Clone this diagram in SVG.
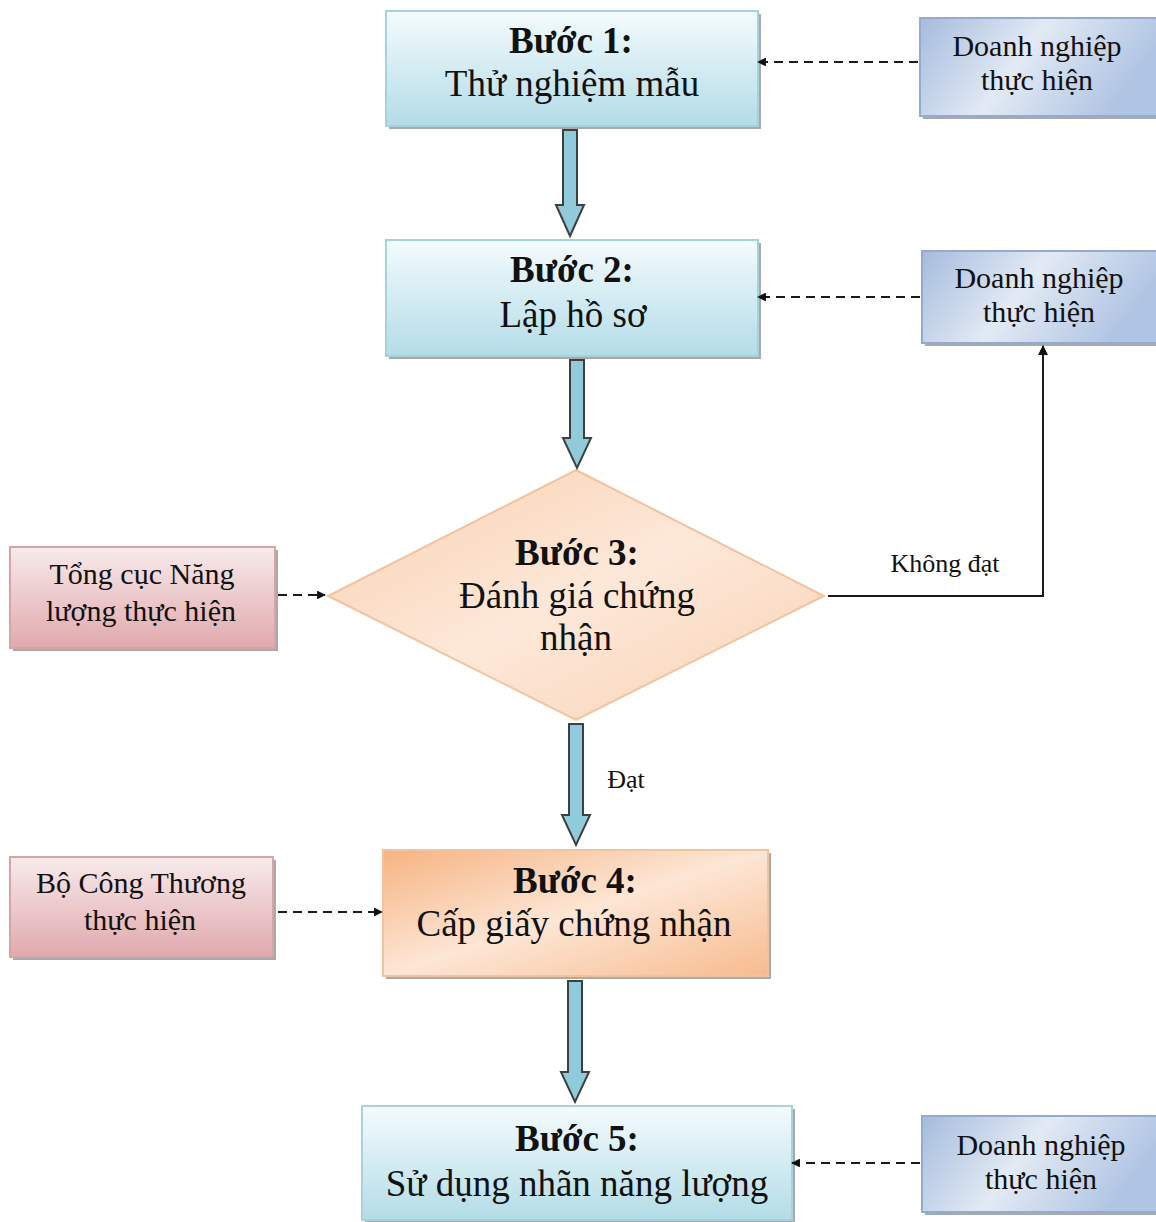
<svg xmlns="http://www.w3.org/2000/svg" width="1156" height="1222" viewBox="0 0 1156 1222">
<defs>
<linearGradient id="gBlue" x1="0" y1="0" x2="0" y2="1">
<stop offset="0" stop-color="#f4fbfd"/><stop offset="1" stop-color="#b3dce7"/>
</linearGradient>
<linearGradient id="gSide" x1="0" y1="0" x2="1" y2="0.3">
<stop offset="0" stop-color="#a5bbdd"/><stop offset="0.5" stop-color="#e2eaf4"/><stop offset="1" stop-color="#b0c4e3"/>
</linearGradient>
<linearGradient id="gPink" x1="0" y1="0" x2="0" y2="1">
<stop offset="0" stop-color="#f8eaeb"/><stop offset="1" stop-color="#e0a9ad"/>
</linearGradient>
<linearGradient id="gDia" x1="0" y1="0" x2="1" y2="1">
<stop offset="0" stop-color="#f9cfae"/><stop offset="0.5" stop-color="#fde8d9"/><stop offset="1" stop-color="#f9d2b3"/>
</linearGradient>
<linearGradient id="gOr" x1="0" y1="0" x2="1" y2="1">
<stop offset="0" stop-color="#f6b382"/><stop offset="0.5" stop-color="#fde6d5"/><stop offset="1" stop-color="#f7bb8e"/>
</linearGradient>
<marker id="ah" viewBox="0 0 10 10" refX="9" refY="5" markerWidth="4" markerHeight="4" orient="auto">
<path d="M0,0 L10,5 L0,10 Z" fill="#111"/>
</marker>
<marker id="ah2" viewBox="0 0 10 10" refX="9" refY="5" markerWidth="5" markerHeight="5" orient="auto">
<path d="M0,0 L10,5 L0,10 Z" fill="#111"/>
</marker>
</defs>
<style>
.shadow{fill:#8c8c8c;opacity:0.75}
.blue{fill:url(#gBlue);stroke:#a6d2df;stroke-width:2}
.side{fill:url(#gSide);stroke:#92abd1;stroke-width:2}
.pink{fill:url(#gPink);stroke:#d7a3a7;stroke-width:2}
.dia{fill:url(#gDia);stroke:#f3c29c;stroke-width:2}
.or{fill:url(#gOr);stroke:#f4c29b;stroke-width:2}
.blk{fill:#8fcbdb;stroke:#3f3f3f;stroke-width:2}
.dash{fill:none;stroke:#1a1a1a;stroke-width:2.2;stroke-dasharray:9 6;marker-end:url(#ah)}
.solid{fill:none;stroke:#1a1a1a;stroke-width:2;marker-end:url(#ah2)}
text{font-family:"Liberation Serif","Times New Roman",serif;fill:#111;text-anchor:middle}
.t{font-size:37px}
.b{font-size:37px;font-weight:bold}
.s{font-size:30px}
.l{font-size:26px}
</style>

<g id="step1">
<rect class="shadow" x="389" y="14" width="372" height="115"/>
<rect class="blue" x="386" y="11" width="372" height="115"/>
<text class="b" x="571" y="53">Bước 1:</text>
<text class="t" x="572" y="96">Thử nghiệm mẫu</text>
</g>
<g id="step2">
<rect class="shadow" x="389" y="243" width="372" height="116"/>
<rect class="blue" x="386" y="240" width="372" height="116"/>
<text class="b" x="572" y="282">Bước 2:</text>
<text class="t" x="573" y="327">Lập hồ sơ</text>
</g>
<g id="step3">
<polygon class="dia" points="576,470 824,596 576,720 328,596"/>
<text class="b" x="577" y="565">Bước 3:</text>
<text class="t" x="577" y="608">Đánh giá chứng</text>
<text class="t" x="576" y="650">nhận</text>
</g>
<g id="step4">
<rect class="shadow" x="386" y="853" width="385" height="126"/>
<rect class="or" x="383" y="850" width="385" height="126"/>
<text class="b" x="575" y="893">Bước 4:</text>
<text class="t" x="574" y="936">Cấp giấy chứng nhận</text>
</g>
<g id="step5">
<rect class="shadow" x="365" y="1109" width="430" height="114"/>
<rect class="blue" x="362" y="1106" width="430" height="114"/>
<text class="b" x="577" y="1151">Bước 5:</text>
<text class="t" x="577" y="1196">Sử dụng nhãn năng lượng</text>
</g>
<g id="dn1">
<rect class="shadow" x="923" y="21" width="236" height="98"/>
<rect class="side" x="920" y="18" width="238" height="98"/>
<text class="s" x="1037" y="56">Doanh nghiệp</text>
<text class="s" x="1037" y="90">thực  hiện</text>
</g>
<g id="dn2">
<rect class="shadow" x="925" y="254" width="236" height="92"/>
<rect class="side" x="922" y="251" width="238" height="92"/>
<text class="s" x="1039" y="288">Doanh nghiệp</text>
<text class="s" x="1039" y="322">thực hiện</text>
</g>
<g id="dn3">
<rect class="shadow" x="925" y="1119" width="236" height="96"/>
<rect class="side" x="922" y="1116" width="238" height="96"/>
<text class="s" x="1041" y="1155">Doanh nghiệp</text>
<text class="s" x="1041" y="1189">thực hiện</text>
</g>
<g id="tcnl">
<rect class="shadow" x="13" y="550" width="265" height="101"/>
<rect class="pink" x="10" y="547" width="265" height="101"/>
<text class="s" x="142" y="584">Tổng cục Năng</text>
<text class="s" x="141" y="621">lượng thực hiện</text>
</g>
<g id="bct">
<rect class="shadow" x="13" y="860" width="263" height="100"/>
<rect class="pink" x="10" y="857" width="263" height="100"/>
<text class="s" x="141" y="893">Bộ Công Thương</text>
<text class="s" x="140" y="930">thực hiện</text>
</g>

<g id="connectors">
<path class="blk" d="M563,130 H577 V205 H584 L570,236 L556,205 H563 Z"/>
<path class="blk" d="M570,360 H584 V438 H591 L577,468 L563,438 H570 Z"/>
<path class="blk" d="M569,724 H583 V815 H590 L576,845 L562,815 H569 Z"/>
<path class="blk" d="M568,981 H582 V1072 H589 L575,1102 L561,1072 H568 Z"/>
<line class="dash" x1="918" y1="62" x2="758" y2="62"/>
<line class="dash" x1="920" y1="297" x2="758" y2="297"/>
<line class="dash" x1="278" y1="595" x2="325" y2="595"/>
<line class="dash" x1="278" y1="912" x2="382" y2="912"/>
<line class="dash" x1="920" y1="1163" x2="792" y2="1163"/>
<polyline class="solid" points="828,596 1043,596 1043,346"/>
<text class="l" x="945" y="572">Không đạt</text>
<text class="l" x="626" y="788">Đạt</text>
</g>
</svg>
